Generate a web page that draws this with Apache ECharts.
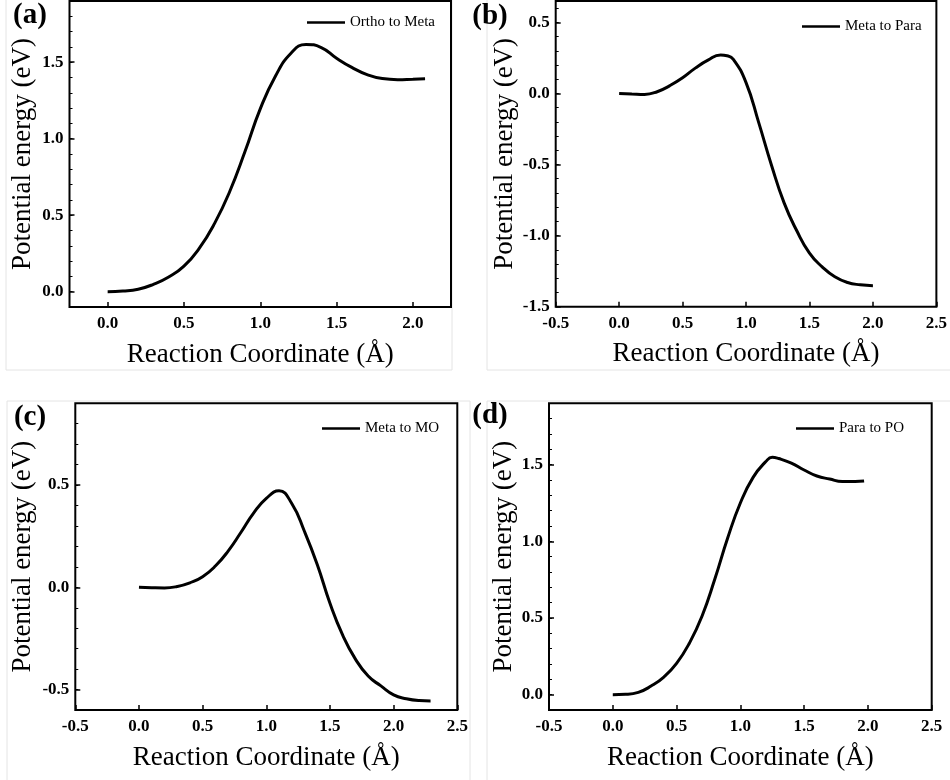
<!DOCTYPE html>
<html>
<head>
<meta charset="utf-8">
<script src="https://cdn.jsdelivr.net/npm/echarts@6/dist/echarts.min.js"></script>
<style>
  html, body { margin: 0; padding: 0; background: #fff; }
  #chart { width: 950px; height: 780px; }
</style>
</head>
<body>
<div id="chart"></div>
<script>
// (a) Ortho to Meta
const xA = [0, 0.1, 0.2, 0.3, 0.4, 0.5, 0.6, 0.7, 0.8, 0.9, 1.0, 1.1, 1.2, 1.3, 1.4, 1.5, 1.6, 1.7, 1.8, 1.9, 2.0, 2.08];
const yA = [0, 0.004, 0.016, 0.048, 0.096, 0.167, 0.283, 0.445, 0.655, 0.916, 1.195, 1.41, 1.557, 1.616, 1.596, 1.526, 1.466, 1.419, 1.393, 1.386, 1.389, 1.392];
// (b) Meta to Para
const xB = [0, 0.1, 0.2, 0.3, 0.4, 0.5, 0.6, 0.7, 0.8, 0.85, 0.9, 1.0, 1.1, 1.2, 1.3, 1.4, 1.5, 1.6, 1.7, 1.8, 1.9, 2.0];
const yB = [0, -0.004, -0.007, 0.012, 0.055, 0.11, 0.178, 0.234, 0.27, 0.265, 0.24, 0.076, -0.205, -0.503, -0.77, -0.966, -1.123, -1.22, -1.29, -1.33, -1.346, -1.352];
// (c) Meta to MO
const xC = [0, 0.1, 0.2, 0.3, 0.4, 0.5, 0.6, 0.7, 0.8, 0.9, 1.0, 1.1, 1.2, 1.3, 1.4, 1.5, 1.6, 1.7, 1.8, 1.9, 2.0, 2.1, 2.2, 2.29];
const yC = [0, -0.002, -0.003, 0.004, 0.022, 0.052, 0.104, 0.177, 0.268, 0.363, 0.435, 0.472, 0.41, 0.273, 0.112, -0.078, -0.234, -0.351, -0.434, -0.482, -0.526, -0.545, -0.554, -0.556];
// (d) Para to PO
const xD = [0, 0.1, 0.2, 0.3, 0.4, 0.5, 0.6, 0.7, 0.8, 0.9, 1.0, 1.1, 1.2, 1.25, 1.3, 1.4, 1.5, 1.6, 1.7, 1.8, 1.9, 1.97];
const yD = [0, 0.002, 0.015, 0.056, 0.115, 0.204, 0.335, 0.513, 0.754, 1.02, 1.25, 1.417, 1.52, 1.548, 1.54, 1.51, 1.465, 1.426, 1.406, 1.39, 1.39, 1.393];

const names = ['Ortho to Meta', 'Meta to Para', 'Meta to MO', 'Para to PO'];
const labels = ['(a)', '(b)', '(c)', '(d)'];
const yLabelsA = [0, 0.5, 1.0, 1.5];
const yLabelsB = [-1.5, -1.0, -0.5, 0, 0.5];
const yLabelsC = [-0.5, 0, 0.5];
const yLabelsD = [0, 0.5, 1.0, 1.5];
const xLabelsA = [0, 0.5, 1.0, 1.5, 2.0];

const serif = 'Liberation Serif';
const pair = (xs, ys) => xs.map((x, i) => [x, ys[i]]);

const panels = [
  { grid: { left: 69.5, top: 1, width: 381.5, height: 306 }, xmin: -0.25, xmax: 2.25, xcustom: xLabelsA,
    ymin: -0.1, ymax: 1.9, ylab: yLabelsA, yGap: 33, data: pair(xA, yA), leg: { left: 302, top: 10 } },
  { grid: { left: 555.7, top: 1, width: 381, height: 305.7 }, xmin: -0.5, xmax: 2.5,
    ymin: -1.5, ymax: 0.65, ylab: yLabelsB, yGap: 37, data: pair(xB, yB), leg: { left: 797, top: 14 } },
  { grid: { left: 75.3, top: 403.3, width: 382, height: 306.7 }, xmin: -0.5, xmax: 2.5,
    ymin: -0.6, ymax: 0.9, ylab: yLabelsC, yGap: 39, data: pair(xC, yC), leg: { left: 317, top: 416 } },
  { grid: { left: 549, top: 403.3, width: 382.7, height: 306.7 }, xmin: -0.5, xmax: 2.5,
    ymin: -0.1, ymax: 1.9, ylab: yLabelsD, yGap: 30, data: pair(xD, yD), leg: { left: 791, top: 416 } }
];

const fmt = v => Number(v).toFixed(1);
const grids = [], xAxes = [], yAxes = [], series = [], legends = [];

panels.forEach((p, i) => {
  grids.push(Object.assign({ show: true, borderColor: '#000', borderWidth: 2, backgroundColor: 'transparent' }, p.grid));
  const xa = {
    type: 'value', gridIndex: i, min: p.xmin, max: p.xmax,
    name: 'Reaction Coordinate (Å)', nameLocation: 'middle', nameGap: 34,
    nameTextStyle: { fontFamily: serif, fontSize: 27, color: '#000' },
    axisLine: { show: false, onZero: false },
    splitLine: { show: false },
    axisTick: { inside: true, length: 5, lineStyle: { color: '#000', width: 1.5 } },
    axisLabel: { fontFamily: serif, fontSize: 17, fontWeight: 'bold', color: '#000', margin: 8, formatter: fmt,
      showMinLabel: true, showMaxLabel: true }
  };
  if (p.xcustom) {
    xa.axisTick.customValues = p.xcustom;
    xa.axisLabel.customValues = p.xcustom;
  } else {
    xa.interval = 0.5;
  }
  xAxes.push(xa);
  // major axis with labels
  yAxes.push({
    type: 'value', gridIndex: i, position: 'left', min: p.ymin, max: p.ymax,
    name: 'Potential energy (eV)', nameLocation: 'middle', nameGap: p.yGap,
    nameTextStyle: { fontFamily: serif, fontSize: 27, color: '#000' },
    axisLine: { show: false, onZero: false },
    splitLine: { show: false },
    axisTick: { inside: true, length: 5, customValues: p.ylab, lineStyle: { color: '#000', width: 1.5 } },
    axisLabel: { customValues: p.ylab, fontFamily: serif, fontSize: 17, fontWeight: 'bold', color: '#000', margin: 6, formatter: fmt }
  });
  // minor ticks every 0.1
  yAxes.push({
    type: 'value', gridIndex: i, position: 'left', min: p.ymin, max: p.ymax, interval: 0.1,
    axisLine: { show: false, onZero: false },
    splitLine: { show: false },
    axisLabel: { show: false },
    axisTick: { inside: true, length: 3, lineStyle: { color: '#000', width: 1 } }
  });
  series.push({
    name: names[i], type: 'line', xAxisIndex: i, yAxisIndex: i * 2,
    data: p.data, symbol: 'none', smooth: 0.5, color: '#000',
    lineStyle: { color: '#000', width: 3 }
  });
  legends.push({
    data: [names[i]], left: p.leg.left, top: p.leg.top, orient: 'vertical',
    itemWidth: 38, itemHeight: 14, icon: 'path://M0,6 L38,6 L38,8.5 L0,8.5 Z',
    textStyle: { fontFamily: serif, fontSize: 15, color: '#000' }
  });
});

const frames = [[6, -1, 446, 371], [487, -1, 470, 371], [7, 401, 463, 390], [487, 401, 470, 390]];
const letterPos = [[30, 16], [490, 17], [30, 418], [490, 416]];
const graphic = frames.map(f => ({
  type: 'rect', shape: { x: f[0], y: f[1], width: f[2], height: f[3] }, silent: true, z: -10,
  style: { fill: 'none', stroke: '#e4e4e4', lineWidth: 1 }
})).concat(letterPos.map((pos, i) => ({
  type: 'text', x: pos[0], y: pos[1], silent: true,
  style: { text: labels[i], font: 'bold 29px "Liberation Serif"', fill: '#000', align: 'center', verticalAlign: 'middle' }
})));

const chart = echarts.init(document.getElementById('chart'));
chart.setOption({
  backgroundColor: '#fff',
  animation: false,
  grid: grids,
  xAxis: xAxes,
  yAxis: yAxes,
  legend: legends,
  series: series,
  graphic: graphic
});
window.addEventListener('resize', function () { chart.resize(); });
</script>
</body>
</html>
